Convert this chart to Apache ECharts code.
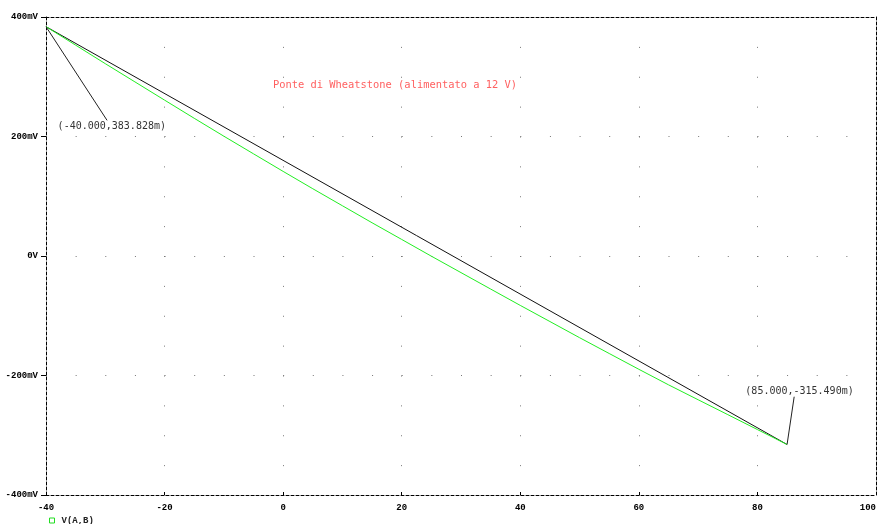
<!DOCTYPE html>
<html>
<head>
<meta charset="utf-8">
<script src="https://cdn.jsdelivr.net/npm/echarts@6/dist/echarts.min.js"></script>
<style>html,body{margin:0;padding:0;background:#fff}#c{width:878px;height:524px}</style>
</head>
<body>
<div id="c"></div>
<script>
// Temperature (x) values of the V(A,B) trace
var tempX = [-40,-35,-30,-25,-20,-15,-10,-5,0,5,10,15,20,25,30,35,40,45,50,55,60,65,70,75,80,85];
// V(A,B) in mV (green trace)
var vabY = [383.828,352.9,321.9,291.4,260.9,230.5,200.5,171.0,141.6,112.6,84.1,55.6,27.7,-0.3,-27.8,-55.3,-82.7,-109.7,-136.7,-163.2,-189.6,-215.6,-240.6,-265.5,-290.5,-315.490];
// Straight reference line between the two cursor points (black)
var lineX = [-40, 85];
var lineY = [383.828, -315.490];
// Cursor annotation points
var cursorX = [-40, 85];
var cursorY = [383.828, -315.490];
// Label anchor positions (data space) for annotations
var labelAnchorX = [-28.9, 87.1];
var labelAnchorY = [217.6, -227.2];
var leaderEndX = [-29.7, 86.2];
var leaderEndY = [227.0, -235.5];
// Axis ticks
var xTicks = [-40,-20,0,20,40,60,80,100];
var yTicks = [-400,-200,0,200,400];
var titleText = 'Ponte di Wheatstone (alimentato a 12 V)';
var seriesName = 'V(A,B)';

var chart = echarts.init(document.getElementById('c'), null, {renderer:'canvas'});
var mono = 'Liberation Mono';
var greenData = tempX.map(function(x,i){return [x, vabY[i]];});
var blackData = lineX.map(function(x,i){return [x, lineY[i]];});
var leaders = cursorX.map(function(x,i){
  return [{coord:[x, cursorY[i]]},{coord:[leaderEndX[i], leaderEndY[i]]}];
});
var labelsMP = cursorX.map(function(x,i){
  return {coord:[labelAnchorX[i], labelAnchorY[i]],
    label:{formatter:'(' + x.toFixed(3) + ',' + cursorY[i].toFixed(3) + 'm)'}};
});

var option = {
  animation:false,
  backgroundColor:'#fff',
  title:{text:titleText, left:268, top:75,
    textStyle:{fontFamily:'DejaVu Sans Mono', fontSize:10.4, fontWeight:'normal', color:'#ff6060'}},
  legend:{data:[seriesName], left:44, top:511, itemWidth:5, itemHeight:5, itemGap:4,
    icon:'rect',
    itemStyle:{color:'#fff', borderColor:'#22dd22', borderWidth:1},
    textStyle:{fontFamily:mono, fontWeight:'bold', fontSize:9, color:'#222', padding:[0,0,0,2]}},
  grid:{left:46, right:2, top:17, bottom:29, containLabel:false, outerBoundsMode:'none'},
  xAxis:[{type:'value', min:-40, max:100, interval:20, position:'bottom',
    axisLine:{show:true, onZero:false, lineStyle:{color:'#000', width:1, type:[3,2]}},
    axisTick:{show:true, inside:true, length:3, lineStyle:{color:'#000'}},
    axisLabel:{fontFamily:mono, fontWeight:'bold', fontSize:9, color:'#000', margin:8, alignMaxLabel:'right'},
    splitLine:{show:true, lineStyle:{color:'#777', width:1, type:[1,28.875]}}},
   {type:'value', min:-40, max:100, interval:20, position:'top',
    axisLine:{show:true, onZero:false, lineStyle:{color:'#000', width:1, type:[3,2]}},
    axisTick:{show:false}, axisLabel:{show:false}, splitLine:{show:false}}],
  yAxis:[{type:'value', min:-400, max:400, interval:200, position:'left',
    axisLine:{show:true, onZero:false, lineStyle:{color:'#000', width:1, type:[3,2]}},
    axisTick:{show:true, length:5, lineStyle:{color:'#000'}},
    axisLabel:{fontFamily:mono, fontWeight:'bold', fontSize:9, color:'#000', margin:8,
      formatter:function(v){return v===0 ? '0V' : v + 'mV';}},
    splitLine:{show:true, lineStyle:{color:'#777', width:1, type:[1,28.643]}}},
   {type:'value', min:-400, max:400, interval:200, position:'right',
    axisLine:{show:true, onZero:false, lineStyle:{color:'#000', width:1, type:[3,2]}},
    axisTick:{show:false}, axisLabel:{show:false}, splitLine:{show:false}}],
  series:[
    {name:'ref', type:'line', data:blackData, symbol:'none', silent:true,
     lineStyle:{color:'#111', width:1}, z:2,
     markLine:{silent:true, symbol:['none','none'], label:{show:false},
       lineStyle:{color:'#222', width:1, type:'solid'}, data:leaders},
     markPoint:{silent:true, symbol:'circle', symbolSize:1, itemStyle:{color:'rgba(0,0,0,0)'},
       label:{show:true, position:'inside', fontFamily:'DejaVu Sans Mono', fontSize:10, color:'#333'},
       data:labelsMP}},
    {name:seriesName, type:'line', data:greenData, symbol:'none', silent:true,
     lineStyle:{color:'#22ee22', width:1}, z:3}
  ]
};
chart.setOption(option);
</script>
</body>
</html>
